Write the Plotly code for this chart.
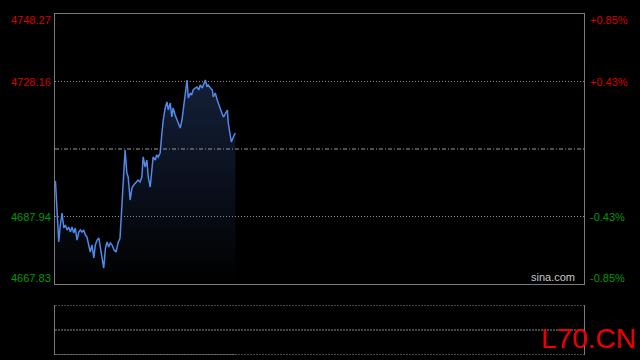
import plotly.graph_objects as go

# ---- data ----
prev_close = 4708.05
y_ticks_left = [4748.27, 4728.16, 4687.94, 4667.83]
y_ticks_left_text = ["4748.27", "4728.16", "4687.94", "4667.83"]
pct_text = ["+0.85%", "+0.43%", "-0.43%", "-0.85%"]
session_minutes = 240

minutes = [0.0, 0.2, 0.5, 1.0, 1.7, 2.3, 3.2, 4.0, 4.7, 5.5, 6.2, 7.0, 7.7, 8.5, 9.2,
           10.0, 10.8, 11.5, 12.3, 13.0, 13.8, 14.5, 15.3, 16.0, 16.8, 17.6, 18.3, 19.1,
           19.9, 20.6, 21.4, 22.1, 22.9, 23.6, 24.4, 25.1, 25.9, 26.8, 27.7, 28.6, 29.5,
           30.3, 30.9, 31.8, 32.6, 33.2, 34.1, 34.9, 35.7, 36.4, 37.7, 38.6, 39.4, 40.0,
           40.9, 41.7, 42.3, 43.2, 43.9, 44.5, 45.5, 46.1, 46.8, 47.7, 48.5, 49.1, 50.0,
           50.8, 51.4, 52.3, 53.0, 53.6, 54.5, 55.3, 56.0, 56.8, 57.6, 58.2, 59.1, 59.9,
           60.5, 61.4, 62.0, 62.7, 63.6, 64.4, 65.2, 65.9, 66.8, 67.5, 68.2, 68.9, 69.5,
           70.5, 71.4, 71.8, 72.7, 73.6, 74.3, 75.0, 75.7, 76.4, 77.3, 78.2, 78.6, 79.3,
           80.0, 80.9, 81.8]
prices = [4697.32, 4698.51, 4694.94, 4686.89, 4680.34, 4684.81, 4688.98, 4684.51, 4685.40,
          4683.91, 4684.81, 4683.32, 4684.81, 4683.02, 4684.51, 4680.93, 4683.32, 4683.91,
          4683.32, 4683.91, 4682.42, 4681.83, 4678.85, 4677.36, 4679.44, 4675.57, 4679.44,
          4680.93, 4681.53, 4678.55, 4676.46, 4672.59, 4678.55, 4680.34, 4678.85, 4680.04,
          4679.44, 4677.95, 4677.36, 4680.04, 4681.53, 4690.77, 4700.90, 4707.75, 4700.90,
          4699.71, 4692.85, 4696.43, 4697.32, 4697.92, 4698.81, 4698.22, 4699.71, 4705.67,
          4702.69, 4704.77, 4699.71, 4696.73, 4700.90, 4705.67, 4704.77, 4706.26, 4705.67,
          4706.86, 4712.82, 4716.69, 4720.27, 4722.06, 4719.67, 4721.75, 4717.58, 4720.27,
          4718.18, 4716.69, 4715.50, 4714.31, 4716.69, 4719.67, 4725.63, 4728.61, 4723.24,
          4724.73, 4724.14, 4725.63, 4726.22, 4726.52, 4725.63, 4727.12, 4726.22, 4727.41,
          4728.61, 4726.82, 4727.12, 4726.22, 4725.63, 4723.54, 4724.73, 4722.65, 4721.16,
          4719.67, 4718.77, 4717.58, 4718.77, 4719.67, 4715.80, 4713.11, 4710.14, 4711.62,
          4712.82]

RED = "#d80000"
GREEN = "#009a00"
FRAME = "#7a7a7a"
GRID = "#8a8a8a"
FONT = "Liberation Sans, Arial, sans-serif"

fig = go.Figure()
fig.add_trace(go.Scatter(
    x=minutes, y=prices, mode="lines",
    line=dict(color="#5089e8", width=1.5),
    fill="tozeroy",
    fillgradient=dict(type="vertical",
                      colorscale=[[0, "#000000"], [1, "#142039"]],
                      start=y_ticks_left[-1], stop=4728.6),
    hoverinfo="skip", showlegend=False, xaxis="x", yaxis="y"))

fig.add_trace(go.Scatter(x=[0, session_minutes], y=[0, 1], mode="lines",
                         line=dict(width=0), opacity=0, showlegend=False,
                         hoverinfo="skip", xaxis="x2", yaxis="y2"))

ax_common = dict(showgrid=False, zeroline=False, showticklabels=False, ticks="")
fig.update_layout(
    width=640, height=360,
    paper_bgcolor="#000000", plot_bgcolor="#000000",
    margin=dict(l=55, r=56, t=14, b=5),
    xaxis=dict(domain=[0, 1], range=[0, session_minutes], anchor="y",
               showline=True, mirror=True, linecolor=FRAME, linewidth=1, **ax_common),
    yaxis=dict(domain=[0.2082, 1], range=[y_ticks_left[-1], y_ticks_left[0]], anchor="x",
               showline=True, mirror=True, linecolor=FRAME, linewidth=1, **ax_common),
    xaxis2=dict(domain=[0, 1], range=[0, session_minutes], anchor="y2", showline=False, **ax_common),
    yaxis2=dict(domain=[0, 0.1466], range=[0, 1], anchor="x2",
                showline=True, mirror=True, linecolor=FRAME, linewidth=1, **ax_common),
)

shapes = []
# main-panel grid lines
for v in (y_ticks_left[1], y_ticks_left[2]):
    shapes.append(dict(type="line", xref="x domain", yref="y", x0=0, x1=1, y0=v, y1=v,
                       line=dict(color=GRID, width=1, dash="1px,2px")))
shapes.append(dict(type="line", xref="x domain", yref="y", x0=0, x1=1, y0=prev_close,
                   y1=prev_close, line=dict(color="#9a9a9a", width=1, dash="4px,2px,1px,2px")))
# lower panel lines
for v in (0, 0.5, 1):
    shapes.append(dict(type="line", xref="x2 domain", yref="y2", x0=0, x1=1, y0=v, y1=v,
                       line=dict(color=GRID, width=1, dash="2px,1px")))
shapes.append(dict(type="line", xref="x2", yref="y2", x0=0, x1=minutes[-1], y0=0, y1=0,
                   line=dict(color="#8c8c8c", width=1)))
fig.update_layout(shapes=shapes)

ann = []
shifts = [-6, 0, 0, 6]
colors = [RED, RED, GREEN, GREEN]
for v, t, p, s, c in zip(y_ticks_left, y_ticks_left_text, pct_text, shifts, colors):
    ann.append(dict(xref="paper", yref="y", x=0, y=v, text=t, showarrow=False,
                    xanchor="right", yanchor="middle", xshift=-2, yshift=s,
                    font=dict(family=FONT, size=11, color=c)))
    ann.append(dict(xref="paper", yref="y", x=1, y=v, text=p, showarrow=False,
                    xanchor="left", yanchor="middle", xshift=4, yshift=s,
                    font=dict(family=FONT, size=11, color=c)))
ann.append(dict(xref="paper", yref="y", x=0.941, y=y_ticks_left[-1], text="sina.com",
                showarrow=False, xanchor="center", yanchor="bottom", yshift=-1,
                font=dict(family=FONT, size=11, color="#c8c8c8")))
ann.append(dict(xref="paper", yref="paper", x=1, y=0, text="L70.CN", showarrow=False,
                xanchor="right", yanchor="bottom", xshift=54, yshift=-1,
                font=dict(family=FONT, size=28, color="#ee0000")))
fig.update_layout(annotations=ann)

fig.write_html("out.html")
